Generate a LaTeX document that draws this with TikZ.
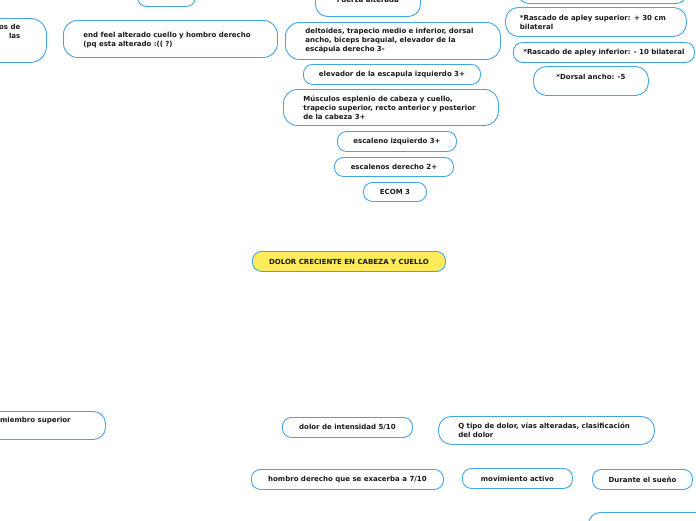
\documentclass[tikz,border=0pt]{standalone}
\usepackage{fontspec}
\setmainfont{DejaVu Sans}
\usepackage{xcolor}
\usepackage{tikz}
\definecolor{mapblue}{HTML}{42A5E8}
\definecolor{mapyellow}{HTML}{FFEB5C}
\newcommand{\mapfont}{\fontsize{7}{8.9}\selectfont\bfseries}

\begin{document}
\begin{tikzpicture}[x=1pt,y=-1pt,
    topic/.style={draw=mapblue, line width=0.9pt, rounded corners=9pt, fill=white,
      font=\mapfont, text=black!90, anchor=north west, inner sep=0pt, align=center},
    wide/.style={topic, rounded corners=14pt, align=left},
    txt/.style={font=\mapfont, text=black!90, inner sep=0pt}]

  % Frame
  \useasboundingbox (0,0) rectangle (696,520);
  \clip (0,0) rectangle (696,520);

  % Central topic
  \node[topic, fill=mapyellow, minimum width=193, minimum height=20] (dolor) at (252,251) {DOLOR CRECIENTE EN CABEZA Y CUELLO};

  % Cut-off topics at the edges
  \node[topic, minimum width=58, minimum height=20] (arriba) at (137,-14) {};
  \node[topic, rounded corners=12pt, minimum width=105, minimum height=34] (fuerza) at (315,-18) {Fuerza alterada};
  \node[topic, rounded corners=10pt, minimum width=168, minimum height=23] (derecha) at (518,-20) {};
  \node[topic, rounded corners=16pt, minimum width=146, minimum height=44] (izquierda) at (-100,18) {};
  \node[txt, anchor=east, align=right] (izquierdatxt) at (20.5,31.5) {os de\\las};
  \node[topic, rounded corners=12pt, minimum width=205, minimum height=28] (miembro) at (-100,411) {};
  \node[txt, anchor=west] (miembrotxt) at (0,421) {miembro superior};
  \node[topic, rounded corners=12pt, minimum width=120, minimum height=30] (abajo) at (588,512) {};

  % Upper branch
  \node[wide, minimum width=214, minimum height=37, text width=174, text depth=9pt] (endfeel) at (63,20)
    {end feel alterado cuello y hombro derecho\\(pq esta alterado :(( ?)};
  \node[wide, minimum width=215, minimum height=37, text width=175] (deltoides) at (285,22)
    {deltoides, trapecio medio e inferior, dorsal\\ancho, biceps braquial, elevador de la\\escápula derecho 3-};
  \node[topic, minimum width=177, minimum height=20] (elevador) at (303,64) {elevador de la escapula izquierdo 3+};
  \node[wide, minimum width=215, minimum height=36, text width=175] (musculos) at (283,89)
    {Músculos esplenio de cabeza y cuello,\\trapecio superior, recto anterior y posterior\\de la cabeza 3+};
  \node[topic, minimum width=119, minimum height=20] (escizq) at (337,131) {escaleno izquierdo 3+};
  \node[topic, minimum width=119, minimum height=19] (escder) at (334,157) {escalenos derecho 2+};
  \node[topic, minimum width=63, minimum height=19] (ecom) at (363,182) {ECOM 3};

  % Right branch
  \node[wide, rounded corners=13pt, minimum width=181, minimum height=29, text width=152] (rascadosup) at (505,7)
    {*Rascado de apley superior: + 30 cm\\bilateral};
  \node[topic, minimum width=181, minimum height=20] (rascadoinf) at (513,42) {*Rascado de apley inferior: - 10 bilateral};
  \node[topic, rounded corners=13pt, minimum width=115, minimum height=29, text depth=9pt] (dorsal) at (533,66) {*Dorsal ancho: -5};

  % Lower branch
  \node[topic, minimum width=130, minimum height=20] (intensidad) at (282,417) {dolor de intensidad 5/10};
  \node[wide, rounded corners=13pt, minimum width=216, minimum height=28, text width=176] (tipodolor) at (438,416)
    {Q tipo de dolor, vías alteradas, clasificación\\del dolor};
  \node[topic, minimum width=192, minimum height=20] (hombro) at (251,469) {hombro derecho que se exacerba a 7/10};
  \node[topic, minimum width=110, minimum height=20] (movimiento) at (462,468) {movimiento activo};
  \node[topic, minimum width=100, minimum height=20] (sueno) at (592,469) {Durante el sueño};
\end{tikzpicture}
\end{document}
